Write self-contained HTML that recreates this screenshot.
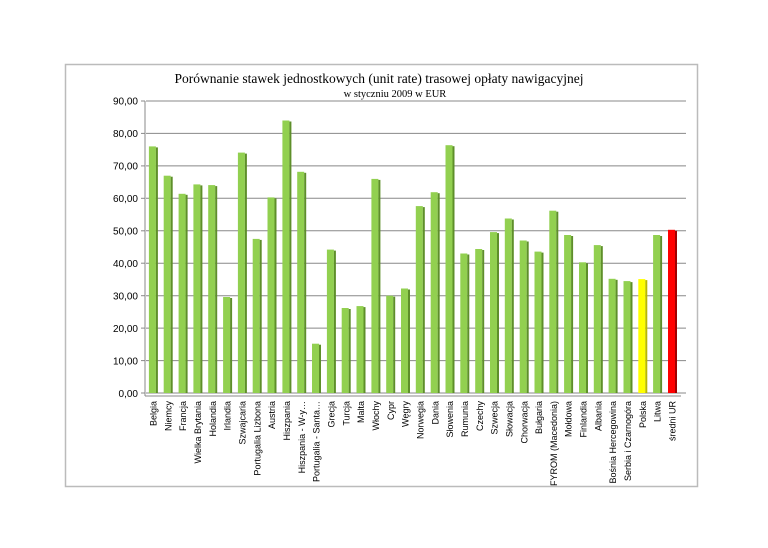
<!DOCTYPE html>
<html><head><meta charset="utf-8"><style>
body{margin:0;background:#fff}
svg text{font-family:"Liberation Sans",sans-serif}
</style></head><body>
<svg width="768" height="543" xmlns="http://www.w3.org/2000/svg">
<rect x="65.5" y="64.5" width="632" height="422" fill="#fff" stroke="#bbb" stroke-width="1.5"/>
<text x="379" y="83" text-anchor="middle" font-size="13.5" style="font-family:'Liberation Serif',serif">Porównanie stawek jednostkowych (unit rate) trasowej opłaty nawigacyjnej</text>
<text x="395" y="97" text-anchor="middle" font-size="10.5" style="font-family:'Liberation Serif',serif">w styczniu 2009 w EUR</text>
<g stroke="#888" stroke-width="1">
<line x1="146" y1="101" x2="686" y2="101"/><line x1="146" y1="133.4" x2="686" y2="133.4"/><line x1="146" y1="165.9" x2="686" y2="165.9"/><line x1="146" y1="198.3" x2="686" y2="198.3"/><line x1="146" y1="230.8" x2="686" y2="230.8"/><line x1="146" y1="263.2" x2="686" y2="263.2"/><line x1="146" y1="295.7" x2="686" y2="295.7"/><line x1="146" y1="328.1" x2="686" y2="328.1"/><line x1="146" y1="360.6" x2="686" y2="360.6"/><line x1="146" y1="393" x2="686" y2="393"/>
<line x1="145" y1="101" x2="145" y2="396"/>
<line x1="141" y1="101" x2="145" y2="101"/><line x1="141" y1="133.4" x2="145" y2="133.4"/><line x1="141" y1="165.9" x2="145" y2="165.9"/><line x1="141" y1="198.3" x2="145" y2="198.3"/><line x1="141" y1="230.8" x2="145" y2="230.8"/><line x1="141" y1="263.2" x2="145" y2="263.2"/><line x1="141" y1="295.7" x2="145" y2="295.7"/><line x1="141" y1="328.1" x2="145" y2="328.1"/><line x1="141" y1="360.6" x2="145" y2="360.6"/><line x1="141" y1="393" x2="145" y2="393"/>
<line x1="145" y1="396" x2="681" y2="396"/>
</g>
<g font-size="10" text-anchor="end" fill="#000">
<text x="138" y="104.5">90,00</text><text x="138" y="137">80,00</text><text x="138" y="169.5">70,00</text><text x="138" y="202">60,00</text><text x="138" y="234.5">50,00</text><text x="138" y="267">40,00</text><text x="138" y="299.5">30,00</text><text x="138" y="332">20,00</text><text x="138" y="364.5">10,00</text><text x="138" y="397">0,00</text>
</g>
<g id="bars">
<g transform="translate(153.4,0)"><rect x="-4.5" y="146.4" width="7" height="246.6" fill="#92d050"/><rect x="2.5" y="147.4" width="2" height="245.6" fill="#5e8f2a"/></g>
<g transform="translate(168.2,0)"><rect x="-4.5" y="175.7" width="7" height="217.3" fill="#92d050"/><rect x="2.5" y="176.7" width="2" height="216.3" fill="#5e8f2a"/></g>
<g transform="translate(183.1,0)"><rect x="-4.5" y="193.8" width="7" height="199.2" fill="#92d050"/><rect x="2.5" y="194.8" width="2" height="198.2" fill="#5e8f2a"/></g>
<g transform="translate(197.9,0)"><rect x="-4.5" y="184.4" width="7" height="208.6" fill="#92d050"/><rect x="2.5" y="185.4" width="2" height="207.6" fill="#5e8f2a"/></g>
<g transform="translate(212.7,0)"><rect x="-4.5" y="185.1" width="7" height="207.9" fill="#92d050"/><rect x="2.5" y="186.1" width="2" height="206.9" fill="#5e8f2a"/></g>
<g transform="translate(227.6,0)"><rect x="-4.5" y="297" width="7" height="96" fill="#92d050"/><rect x="2.5" y="298" width="2" height="95" fill="#5e8f2a"/></g>
<g transform="translate(242.4,0)"><rect x="-4.5" y="152.6" width="7" height="240.4" fill="#92d050"/><rect x="2.5" y="153.6" width="2" height="239.4" fill="#5e8f2a"/></g>
<g transform="translate(257.2,0)"><rect x="-4.5" y="238.9" width="7" height="154.1" fill="#92d050"/><rect x="2.5" y="239.9" width="2" height="153.1" fill="#5e8f2a"/></g>
<g transform="translate(272,0)"><rect x="-4.5" y="197.4" width="7" height="195.6" fill="#92d050"/><rect x="2.5" y="198.4" width="2" height="194.6" fill="#5e8f2a"/></g>
<g transform="translate(286.9,0)"><rect x="-4.5" y="120.5" width="7" height="272.5" fill="#92d050"/><rect x="2.5" y="121.5" width="2" height="271.5" fill="#5e8f2a"/></g>
<g transform="translate(301.7,0)"><rect x="-4.5" y="171.8" width="7" height="221.2" fill="#92d050"/><rect x="2.5" y="172.8" width="2" height="220.2" fill="#5e8f2a"/></g>
<g transform="translate(316.5,0)"><rect x="-4.5" y="343.7" width="7" height="49.3" fill="#92d050"/><rect x="2.5" y="344.7" width="2" height="48.3" fill="#5e8f2a"/></g>
<g transform="translate(331.4,0)"><rect x="-4.5" y="249.6" width="7" height="143.4" fill="#92d050"/><rect x="2.5" y="250.6" width="2" height="142.4" fill="#5e8f2a"/></g>
<g transform="translate(346.2,0)"><rect x="-4.5" y="308" width="7" height="85" fill="#92d050"/><rect x="2.5" y="309" width="2" height="84" fill="#5e8f2a"/></g>
<g transform="translate(361,0)"><rect x="-4.5" y="306.1" width="7" height="86.9" fill="#92d050"/><rect x="2.5" y="307.1" width="2" height="85.9" fill="#5e8f2a"/></g>
<g transform="translate(375.9,0)"><rect x="-4.5" y="178.9" width="7" height="214.1" fill="#92d050"/><rect x="2.5" y="179.9" width="2" height="213.1" fill="#5e8f2a"/></g>
<g transform="translate(390.7,0)"><rect x="-4.5" y="295.7" width="7" height="97.3" fill="#92d050"/><rect x="2.5" y="296.7" width="2" height="96.3" fill="#5e8f2a"/></g>
<g transform="translate(405.5,0)"><rect x="-4.5" y="288.5" width="7" height="104.5" fill="#92d050"/><rect x="2.5" y="289.5" width="2" height="103.5" fill="#5e8f2a"/></g>
<g transform="translate(420.3,0)"><rect x="-4.5" y="206.1" width="7" height="186.9" fill="#92d050"/><rect x="2.5" y="207.1" width="2" height="185.9" fill="#5e8f2a"/></g>
<g transform="translate(435.2,0)"><rect x="-4.5" y="192.2" width="7" height="200.8" fill="#92d050"/><rect x="2.5" y="193.2" width="2" height="199.8" fill="#5e8f2a"/></g>
<g transform="translate(450,0)"><rect x="-4.5" y="145.2" width="7" height="247.8" fill="#92d050"/><rect x="2.5" y="146.2" width="2" height="246.8" fill="#5e8f2a"/></g>
<g transform="translate(464.8,0)"><rect x="-4.5" y="253.5" width="7" height="139.5" fill="#92d050"/><rect x="2.5" y="254.5" width="2" height="138.5" fill="#5e8f2a"/></g>
<g transform="translate(479.7,0)"><rect x="-4.5" y="249" width="7" height="144" fill="#92d050"/><rect x="2.5" y="250" width="2" height="143" fill="#5e8f2a"/></g>
<g transform="translate(494.5,0)"><rect x="-4.5" y="232.1" width="7" height="160.9" fill="#92d050"/><rect x="2.5" y="233.1" width="2" height="159.9" fill="#5e8f2a"/></g>
<g transform="translate(509.3,0)"><rect x="-4.5" y="218.5" width="7" height="174.5" fill="#92d050"/><rect x="2.5" y="219.5" width="2" height="173.5" fill="#5e8f2a"/></g>
<g transform="translate(524.2,0)"><rect x="-4.5" y="240.5" width="7" height="152.5" fill="#92d050"/><rect x="2.5" y="241.5" width="2" height="151.5" fill="#5e8f2a"/></g>
<g transform="translate(539,0)"><rect x="-4.5" y="251.6" width="7" height="141.4" fill="#92d050"/><rect x="2.5" y="252.6" width="2" height="140.4" fill="#5e8f2a"/></g>
<g transform="translate(553.8,0)"><rect x="-4.5" y="210.7" width="7" height="182.3" fill="#92d050"/><rect x="2.5" y="211.7" width="2" height="181.3" fill="#5e8f2a"/></g>
<g transform="translate(568.6,0)"><rect x="-4.5" y="235" width="7" height="158" fill="#92d050"/><rect x="2.5" y="236" width="2" height="157" fill="#5e8f2a"/></g>
<g transform="translate(583.5,0)"><rect x="-4.5" y="262.3" width="7" height="130.7" fill="#92d050"/><rect x="2.5" y="263.3" width="2" height="129.7" fill="#5e8f2a"/></g>
<g transform="translate(598.3,0)"><rect x="-4.5" y="245.1" width="7" height="147.9" fill="#92d050"/><rect x="2.5" y="246.1" width="2" height="146.9" fill="#5e8f2a"/></g>
<g transform="translate(613.1,0)"><rect x="-4.5" y="278.8" width="7" height="114.2" fill="#92d050"/><rect x="2.5" y="279.8" width="2" height="113.2" fill="#5e8f2a"/></g>
<g transform="translate(628,0)"><rect x="-4.5" y="281.1" width="7" height="111.9" fill="#92d050"/><rect x="2.5" y="282.1" width="2" height="110.9" fill="#5e8f2a"/></g>
<g transform="translate(642.8,0)"><rect x="-4.5" y="279.1" width="7" height="113.9" fill="#ffff00"/><rect x="2.5" y="280.1" width="2" height="112.9" fill="#b8b800"/></g>
<g transform="translate(657.6,0)"><rect x="-4.5" y="235" width="7" height="158" fill="#92d050"/><rect x="2.5" y="236" width="2" height="157" fill="#5e8f2a"/></g>
<g transform="translate(672.5,0)"><rect x="-4.5" y="229.8" width="7" height="163.2" fill="#ff0000"/><rect x="2.5" y="230.8" width="2" height="162.2" fill="#a00000"/></g>
</g>
<g font-size="9" text-anchor="end" fill="#000">
<text transform="translate(156.5,401) rotate(-90)">Belgia</text>
<text transform="translate(171.3,401) rotate(-90)">Niemcy</text>
<text transform="translate(186.2,401) rotate(-90)">Francja</text>
<text transform="translate(201,401) rotate(-90)">Wielka Brytania</text>
<text transform="translate(215.8,401) rotate(-90)">Holandia</text>
<text transform="translate(230.7,401) rotate(-90)">Irlandia</text>
<text transform="translate(245.5,401) rotate(-90)">Szwajcaria</text>
<text transform="translate(260.3,401) rotate(-90)">Portugalia Lizbona</text>
<text transform="translate(275.1,401) rotate(-90)">Austria</text>
<text transform="translate(290,401) rotate(-90)">Hiszpania</text>
<text transform="translate(304.8,401) rotate(-90)">Hiszpania - W-y…</text>
<text transform="translate(319.6,401) rotate(-90)">Portugalia - Santa…</text>
<text transform="translate(334.5,401) rotate(-90)">Grecja</text>
<text transform="translate(349.3,401) rotate(-90)">Turcja</text>
<text transform="translate(364.1,401) rotate(-90)">Malta</text>
<text transform="translate(379,401) rotate(-90)">Włochy</text>
<text transform="translate(393.8,401) rotate(-90)">Cypr</text>
<text transform="translate(408.6,401) rotate(-90)">Węgry</text>
<text transform="translate(423.4,401) rotate(-90)">Norwegia</text>
<text transform="translate(438.3,401) rotate(-90)">Dania</text>
<text transform="translate(453.1,401) rotate(-90)">Słowenia</text>
<text transform="translate(467.9,401) rotate(-90)">Rumunia</text>
<text transform="translate(482.8,401) rotate(-90)">Czechy</text>
<text transform="translate(497.6,401) rotate(-90)">Szwecja</text>
<text transform="translate(512.4,401) rotate(-90)">Słowacja</text>
<text transform="translate(527.3,401) rotate(-90)">Chorwacja</text>
<text transform="translate(542.1,401) rotate(-90)">Bułgaria</text>
<text transform="translate(556.9,401) rotate(-90)">FYROM (Macedonia)</text>
<text transform="translate(571.7,401) rotate(-90)">Mołdowa</text>
<text transform="translate(586.6,401) rotate(-90)">Finlandia</text>
<text transform="translate(601.4,401) rotate(-90)">Albania</text>
<text transform="translate(616.2,401) rotate(-90)">Bośnia Hercegowina</text>
<text transform="translate(631.1,401) rotate(-90)">Serbia i Czarnogóra</text>
<text transform="translate(645.9,401) rotate(-90)">Polska</text>
<text transform="translate(660.7,401) rotate(-90)">Litwa</text>
<text transform="translate(675.6,401) rotate(-90)">średni UR</text>
</g>
</svg>
</body></html>
